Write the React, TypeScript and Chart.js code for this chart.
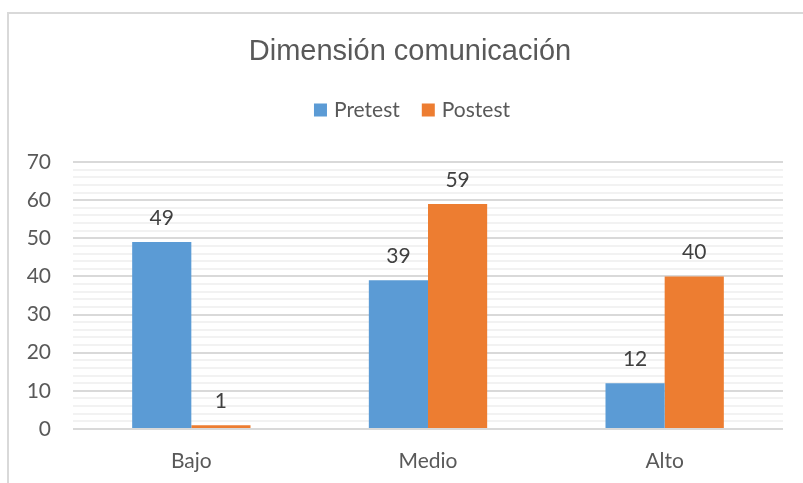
import React, { useEffect, useRef } from "react";
import { Chart, registerables } from "chart.js";

Chart.register(...registerables);

const categories = ["Bajo", "Medio", "Alto"];
const pretest = [49, 39, 12];
const postest = [1, 59, 40];
const seriesNames = ["Pretest", "Postest"];
const seriesColors = ["#5B9BD5", "#ED7D31"];
const titleText = "Dimensión comunicación";

const labelPlugin = {
  id: "valueLabels",
  afterDatasetsDraw(chart: any) {
    const ctx = chart.ctx;
    ctx.save();
    ctx.font = "21px Lato";
    ctx.fillStyle = "#404040";
    ctx.textAlign = "center";
    ctx.textBaseline = "middle";
    chart.data.datasets.forEach((ds: any, di: number) => {
      const meta = chart.getDatasetMeta(di);
      meta.data.forEach((bar: any, i: number) => {
        ctx.fillText(String(ds.data[i]), bar.x, bar.y - 24);
      });
    });
    ctx.restore();
  },
};

const headerPlugin = {
  id: "header",
  afterDraw(chart: any) {
    const ctx = chart.ctx;
    ctx.save();
    ctx.fillStyle = "#595959";
    ctx.textAlign = "center";
    ctx.textBaseline = "middle";
    ctx.font = "29px 'Liberation Sans'";
    ctx.fillText(titleText, 410, 52);
    // legend
    ctx.font = "21px Lato";
    const box = 13;
    const gap = 7;
    const sep = 22;
    const widths = seriesNames.map((n) => ctx.measureText(n).width);
    const total = widths.reduce((a, w) => a + box + gap + w, 0) + sep * (seriesNames.length - 1);
    let x = 412 - total / 2;
    const cy = 110;
    ctx.textAlign = "left";
    seriesNames.forEach((n, i) => {
      ctx.fillStyle = seriesColors[i];
      ctx.fillRect(x, cy - box / 2, box, box);
      x += box + gap;
      ctx.fillStyle = "#595959";
      ctx.fillText(n, x, cy);
      x += widths[i] + sep;
    });
    ctx.restore();
  },
};

export default function App() {
  const ref = useRef<HTMLCanvasElement>(null);
  useEffect(() => {
    const chart = new Chart(ref.current!, {
      type: "bar",
      data: {
        labels: categories,
        datasets: [
          { label: seriesNames[0], data: pretest, backgroundColor: seriesColors[0] },
          { label: seriesNames[1], data: postest, backgroundColor: seriesColors[1] },
        ],
      },
      options: {
        animation: false,
        responsive: false,
        maintainAspectRatio: false,
        layout: { padding: { left: 8, right: 20, top: 162, bottom: 9 } },
        datasets: { bar: { categoryPercentage: 0.5, barPercentage: 1 } },
        plugins: {
          title: { display: false },
          legend: { display: false },
          tooltip: { enabled: false },
        },
        scales: {
          x: {
            grid: { display: false, drawTicks: false },
            border: { display: false },
            ticks: { color: "#595959", font: { family: "Lato", size: 21 }, padding: 20 },
            afterFit: (s: any) => {
              s.height = 45;
            },
          },
          y: {
            min: 0,
            max: 70,
            ticks: {
              stepSize: 2,
              autoSkip: false,
              color: "#595959",
              font: { family: "Lato", size: 21 },
              padding: 22,
              callback: (v: any) => (Number(v) % 10 === 0 ? String(v) : ""),
            },
            grid: {
              drawTicks: false,
              lineWidth: 2,
              color: (c: any) => (c.tick && c.tick.value % 10 === 0 ? "#d9d9d9" : "#f2f2f2"),
            },
            border: { display: false },
            afterFit: (s: any) => {
              s.width = 65;
            },
          },
        },
      },
      plugins: [labelPlugin, headerPlugin],
    });
    return () => chart.destroy();
  }, []);
  return (
    <div style={{ position: "absolute", left: 0, top: 0, width: 803, height: 483, overflow: "hidden", background: "#fff" }}>
      <div
        style={{
          position: "absolute",
          left: 7,
          top: 12,
          width: 820,
          height: 520,
          border: "2px solid #d9d9d9",
          boxSizing: "border-box",
        }}
      />
      <canvas ref={ref} width={803} height={483} style={{ position: "absolute", left: 0, top: 0 }} />
    </div>
  );
}
